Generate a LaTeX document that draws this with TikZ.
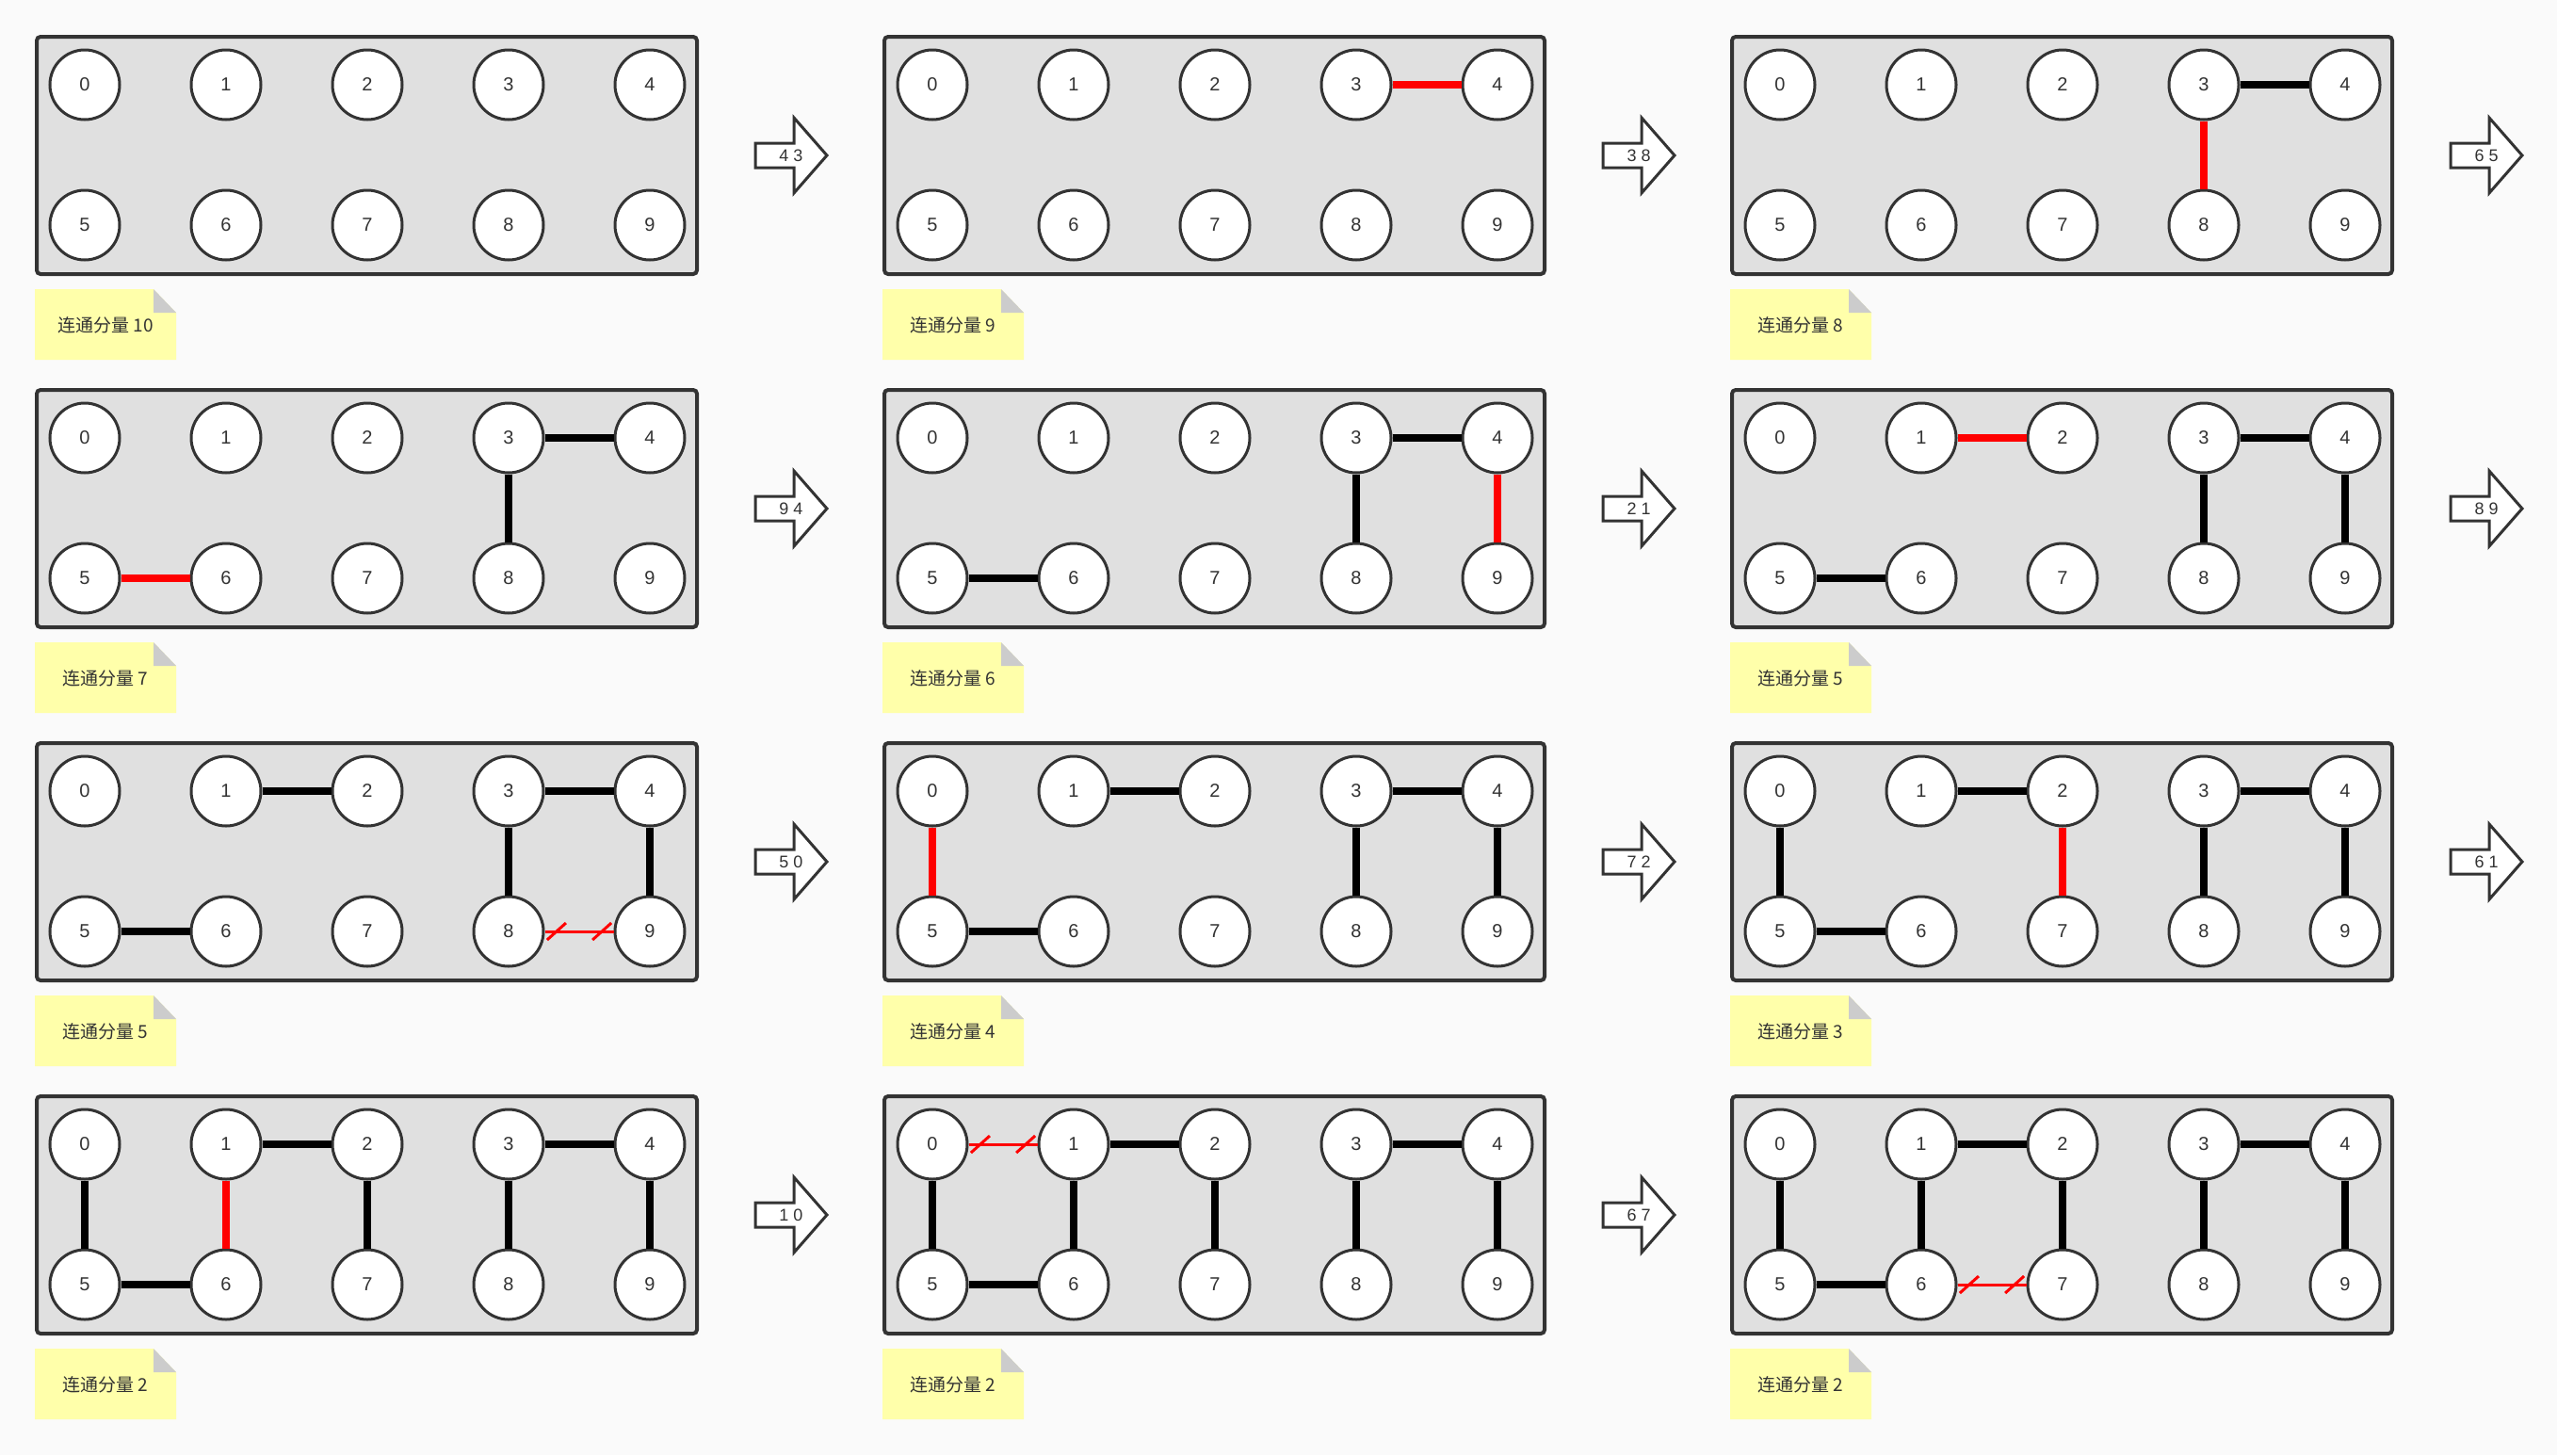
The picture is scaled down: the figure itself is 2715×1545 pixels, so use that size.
\documentclass[tikz,border=0pt]{standalone}
\usepackage{fontspec}
\setmainfont{Liberation Sans}
\newfontfamily\cjk{Noto Sans CJK SC}
\definecolor{bgc}{HTML}{FAFAFA}
\definecolor{panelc}{HTML}{E0E0E0}
\definecolor{inkc}{HTML}{333333}
\definecolor{notec}{HTML}{FFFFAA}
\definecolor{foldc}{HTML}{CCCCCC}
\tikzset{
  panelbox/.style={draw=inkc,fill=panelc,line width=4pt,rounded corners=4pt,minimum width=701pt,minimum height=252pt,inner sep=0pt},
  vtx/.style={circle,draw=inkc,fill=white,line width=3pt,minimum size=74pt,inner sep=0pt,text=inkc,font=\fontsize{20}{24}\selectfont},
  blackedge/.style={line width=8pt,black},
  rededge/.style={line width=8pt,red},
  cutline/.style={line width=3pt,red},
  arrowshape/.style={draw=inkc,fill=white,line width=3pt,line join=miter},
  arrowlbl/.style={text=inkc,inner sep=0pt,font=\fontsize{18}{22}\selectfont},
  notebox/.style={fill=notec},
  notefold/.style={fill=foldc},
  notelbl/.style={text=inkc,inner sep=0pt,font=\cjk\fontsize{19}{23}\selectfont}
}
\newcommand\panelbase[3]{%
  \begin{scope}[shift={({37+900*#2},{37+375*#1})}]
    \node[panelbox] (p#1#2) at (352.5,128) {};
    \foreach \k in {0,...,4} \node[vtx] (p#1#2n\k) at ({53+150*\k},53) {\k};
    \foreach \k in {5,...,9} \node[vtx] (p#1#2n\k) at ({53+150*(\k-5)},202) {\k};
    \fill[notebox] (0,270) -- (126,270) -- (150,295) -- (150,345) -- (0,345) -- cycle;
    \fill[notefold] (126,270) -- (126,295) -- (150,295) -- cycle;
    \node[notelbl] (p#1#2note) at (75,308) {连通分量 #3};
  \end{scope}}
\newcommand\steparrow[3]{%
  \begin{scope}[shift={({37+900*#2},{37+375*#1})}]
    \draw[arrowshape] (765,115) -- (806,115) -- (806,88) -- (841,128) -- (806,168) -- (806,141) -- (765,141) -- cycle;
    \node[arrowlbl] (p#1#2arr) at (803,128) {#3};
  \end{scope}}
\newcommand\bedge[4]{\draw[blackedge] (p#1#2n#3) -- (p#1#2n#4);}
\newcommand\redge[4]{\draw[rededge] (p#1#2n#3) -- (p#1#2n#4);}
\newcommand\cedge[4]{%
  \draw[cutline] (p#1#2n#3) -- (p#1#2n#4) coordinate[pos=0.17] (p#1#2cA) coordinate[pos=0.83] (p#1#2cB);
  \draw[cutline] ([shift={(-10,9)}]p#1#2cA) -- ([shift={(10,-9)}]p#1#2cA);
  \draw[cutline] ([shift={(-10,9)}]p#1#2cB) -- ([shift={(10,-9)}]p#1#2cB);}
\begin{document}
\begin{tikzpicture}[x=1pt,y=-1pt]
\fill[bgc] (0,0) rectangle (2715,1545);
\useasboundingbox (0,0) rectangle (2715,1545);
% row 0
\panelbase{0}{0}{10}\steparrow{0}{0}{4 3}
\panelbase{0}{1}{9}\steparrow{0}{1}{3 8}
\redge{0}{1}{3}{4}
\panelbase{0}{2}{8}\steparrow{0}{2}{6 5}
\bedge{0}{2}{3}{4}\redge{0}{2}{3}{8}
% row 1
\panelbase{1}{0}{7}\steparrow{1}{0}{9 4}
\bedge{1}{0}{3}{4}\bedge{1}{0}{3}{8}\redge{1}{0}{5}{6}
\panelbase{1}{1}{6}\steparrow{1}{1}{2 1}
\bedge{1}{1}{3}{4}\bedge{1}{1}{3}{8}\bedge{1}{1}{5}{6}\redge{1}{1}{4}{9}
\panelbase{1}{2}{5}\steparrow{1}{2}{8 9}
\bedge{1}{2}{3}{4}\bedge{1}{2}{3}{8}\bedge{1}{2}{4}{9}\bedge{1}{2}{5}{6}\redge{1}{2}{1}{2}
% row 2
\panelbase{2}{0}{5}\steparrow{2}{0}{5 0}
\bedge{2}{0}{1}{2}\bedge{2}{0}{3}{4}\bedge{2}{0}{3}{8}\bedge{2}{0}{4}{9}\bedge{2}{0}{5}{6}\cedge{2}{0}{8}{9}
\panelbase{2}{1}{4}\steparrow{2}{1}{7 2}
\bedge{2}{1}{1}{2}\bedge{2}{1}{3}{4}\bedge{2}{1}{3}{8}\bedge{2}{1}{4}{9}\bedge{2}{1}{5}{6}\redge{2}{1}{0}{5}
\panelbase{2}{2}{3}\steparrow{2}{2}{6 1}
\bedge{2}{2}{0}{5}\bedge{2}{2}{5}{6}\bedge{2}{2}{1}{2}\bedge{2}{2}{3}{4}\bedge{2}{2}{3}{8}\bedge{2}{2}{4}{9}\redge{2}{2}{2}{7}
% row 3
\panelbase{3}{0}{2}\steparrow{3}{0}{1 0}
\bedge{3}{0}{0}{5}\bedge{3}{0}{5}{6}\bedge{3}{0}{1}{2}\bedge{3}{0}{2}{7}\bedge{3}{0}{3}{4}\bedge{3}{0}{3}{8}\bedge{3}{0}{4}{9}\redge{3}{0}{1}{6}
\panelbase{3}{1}{2}\steparrow{3}{1}{6 7}
\bedge{3}{1}{0}{5}\bedge{3}{1}{5}{6}\bedge{3}{1}{1}{2}\bedge{3}{1}{1}{6}\bedge{3}{1}{2}{7}\bedge{3}{1}{3}{4}\bedge{3}{1}{3}{8}\bedge{3}{1}{4}{9}\cedge{3}{1}{0}{1}
\panelbase{3}{2}{2}
\bedge{3}{2}{0}{5}\bedge{3}{2}{5}{6}\bedge{3}{2}{1}{6}\bedge{3}{2}{1}{2}\bedge{3}{2}{2}{7}\bedge{3}{2}{3}{4}\bedge{3}{2}{3}{8}\bedge{3}{2}{4}{9}\cedge{3}{2}{6}{7}
\end{tikzpicture}
\end{document}
